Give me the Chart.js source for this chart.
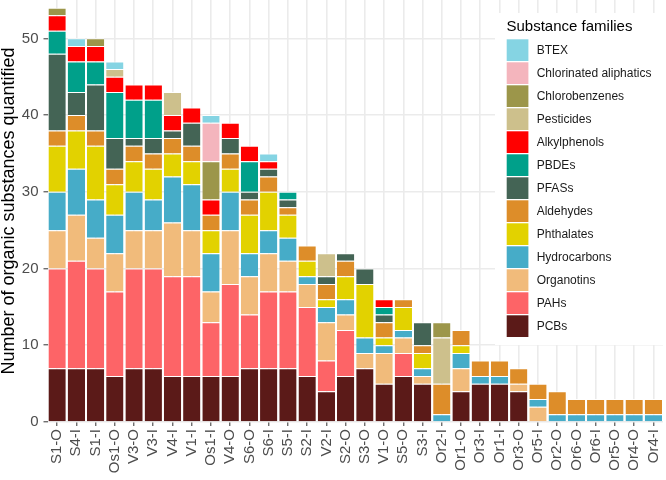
<!DOCTYPE html>
<html>
<head>
<meta charset="utf-8">
<script src="https://cdn.jsdelivr.net/npm/chart.js@4"></script>
<style>
    html, body { margin: 0; padding: 0; background: #ffffff; }
    #wrap { width: 666px; height: 480px; }
</style>
</head>
<body>
<div id="wrap"><canvas id="familyChart" width="666" height="480"></canvas></div>
<script>

const sites = [
    "S1-O", "S4-I", "S1-I", "Os1-O", "V3-O", "V3-I", "V4-I", "V1-I",
    "Os1-I", "V4-O", "S6-O", "S6-I", "S5-I", "S2-I", "V2-I", "S2-O",
    "S3-O", "V1-O", "S5-O", "S3-I", "Or2-I", "Or1-O", "Or3-I", "Or1-I",
    "Or3-O", "Or5-I", "Or2-O", "Or6-O", "Or6-I", "Or5-O", "Or4-O", "Or4-I"
];

// counts per family, stacked bottom (PCBs) to top (BTEX)
const pcbs = [7, 7, 7, 6, 7, 7, 6, 6, 6, 6, 7, 7, 7, 6, 4, 6, 7, 5, 6, 5, 0, 4, 5, 5, 4, 0, 0, 0, 0, 0, 0, 0];
const pahs = [13, 14, 13, 11, 13, 13, 13, 13, 7, 12, 7, 10, 10, 9, 4, 6, 0, 0, 3, 0, 0, 0, 0, 0, 0, 0, 0, 0, 0, 0, 0, 0];
const organotins = [5, 6, 4, 5, 5, 5, 7, 6, 4, 7, 5, 5, 4, 3, 5, 2, 2, 4, 2, 1, 0, 3, 0, 0, 1, 2, 0, 0, 0, 0, 0, 0];
const hydrocarbons = [5, 6, 5, 5, 5, 4, 6, 6, 5, 5, 3, 3, 3, 1, 2, 2, 2, 1, 1, 1, 1, 2, 1, 1, 0, 1, 1, 1, 1, 1, 1, 1];
const phthalates = [6, 5, 7, 4, 4, 4, 3, 3, 3, 3, 5, 5, 3, 2, 1, 3, 7, 1, 3, 2, 0, 1, 0, 0, 0, 0, 0, 0, 0, 0, 0, 0];
const aldehydes = [2, 2, 2, 2, 2, 2, 2, 2, 2, 2, 2, 2, 1, 2, 2, 2, 0, 2, 1, 1, 4, 2, 2, 2, 2, 2, 3, 2, 2, 2, 2, 2];
const pfass = [10, 3, 6, 4, 1, 2, 1, 3, 0, 2, 1, 1, 1, 0, 1, 1, 2, 1, 0, 3, 0, 0, 0, 0, 0, 0, 0, 0, 0, 0, 0, 0];
const pbdes = [3, 4, 3, 6, 5, 5, 0, 0, 0, 0, 4, 0, 1, 0, 0, 0, 0, 1, 0, 0, 0, 0, 0, 0, 0, 0, 0, 0, 0, 0, 0, 0];
const alkylphenols = [2, 2, 2, 2, 2, 2, 2, 2, 2, 2, 2, 1, 0, 0, 0, 0, 0, 1, 0, 0, 0, 0, 0, 0, 0, 0, 0, 0, 0, 0, 0, 0];
const pesticides = [0, 0, 0, 1, 0, 0, 3, 0, 0, 0, 0, 0, 0, 0, 3, 0, 0, 0, 0, 0, 6, 0, 0, 0, 0, 0, 0, 0, 0, 0, 0, 0];
const chlorobenzenes = [1, 0, 1, 0, 0, 0, 0, 0, 5, 0, 0, 0, 0, 0, 0, 0, 0, 0, 0, 0, 2, 0, 0, 0, 0, 0, 0, 0, 0, 0, 0, 0];
const chlorinatedAliphatics = [0, 0, 0, 0, 0, 0, 0, 0, 5, 0, 0, 0, 0, 0, 0, 0, 0, 0, 0, 0, 0, 0, 0, 0, 0, 0, 0, 0, 0, 0, 0, 0];
const btex = [0, 1, 0, 1, 0, 0, 0, 0, 1, 0, 0, 1, 0, 0, 0, 0, 0, 0, 0, 0, 0, 0, 0, 0, 0, 0, 0, 0, 0, 0, 0, 0];

const yTicks = [0, 10, 20, 30, 40, 50];

const FONT = "'Liberation Sans', Arial, sans-serif";

function family(label, data, color) {

    return {
        label,
        data,
        backgroundColor: color,
        borderColor: "#ffffff",
        borderWidth: { top: 1, left: 0, right: 0, bottom: 0 },
        borderSkipped: false,
        barPercentage: 0.9,
        categoryPercentage: 1.0
    };

}

const datasets = [
    family("PCBs", pcbs, "#5B1A18"),
    family("PAHs", pahs, "#FD6467"),
    family("Organotins", organotins, "#F1BB7B"),
    family("Hydrocarbons", hydrocarbons, "#46ACC8"),
    family("Phthalates", phthalates, "#E2D200"),
    family("Aldehydes", aldehydes, "#DD8D29"),
    family("PFASs", pfass, "#446455"),
    family("PBDEs", pbdes, "#00A08A"),
    family("Alkylphenols", alkylphenols, "#FF0000"),
    family("Pesticides", pesticides, "#CDC08C"),
    family("Chlorobenzenes", chlorobenzenes, "#9C964A"),
    family("Chlorinated aliphatics", chlorinatedAliphatics, "#F4B5BD"),
    family("BTEX", btex, "#85D4E3")
];

// legend sits inside the panel, top right, like the ggplot one
const familyLegend = {

    id: "familyLegend",

    afterDraw(chart) {

        const ctx = chart.ctx;

        ctx.save();

        ctx.fillStyle = "#ffffff";
        ctx.fillRect(495, 13, 171, 332);

        ctx.fillStyle = "#000000";
        ctx.font = "15px " + FONT;
        ctx.textBaseline = "alphabetic";
        ctx.textAlign = "left";
        ctx.fillText("Substance families", 506.5, 30.5);

        ctx.font = "12px " + FONT;
        ctx.textBaseline = "middle";

        chart.data.datasets
            .slice()
            .reverse()
            .forEach((ds, i) => {

                const y = 39.3 + i * 23;

                ctx.fillStyle = ds.backgroundColor;
                ctx.fillRect(506.7, y, 21.7, 21.7);

                ctx.fillStyle = "#1a1a1a";
                ctx.fillText(ds.label, 536.7, y + 11.5);

            });

        ctx.restore();

    }

};

new Chart(document.getElementById("familyChart"), {

    type: "bar",

    data: {
        labels: sites,
        datasets
    },

    plugins: [familyLegend],

    options: {

        responsive: false,
        animation: false,
        events: [],

        layout: {
            padding: { left: 0, right: 3, top: 0, bottom: 0 }
        },

        plugins: {
            legend: { display: false },
            tooltip: { enabled: false }
        },

        scales: {

            x: {
                stacked: true,
                offset: true,
                afterFit(scale) {
                    scale.height = 58;
                    scale.paddingLeft = 0;
                    scale.paddingRight = 0;
                },
                border: { display: false },
                grid: {
                    offset: false,
                    color: "#ebebeb",
                    lineWidth: 1.6,
                    tickColor: "#333333",
                    tickLength: 4,
                    tickWidth: 1
                },
                ticks: {
                    autoSkip: false,
                    maxRotation: 90,
                    minRotation: 90,
                    padding: 3,
                    color: "#4d4d4d",
                    font: { family: FONT, size: 15 }
                }
            },

            y: {
                stacked: true,
                min: 0,
                max: 55,
                afterFit(scale) {
                    scale.width = 47.5;
                    scale.paddingTop = 0;
                    scale.paddingBottom = 0;
                },
                afterBuildTicks(scale) {
                    scale.ticks = yTicks.map(v => ({ value: v }));
                },
                border: { display: false },
                grid: {
                    color: "#ebebeb",
                    lineWidth: 1.6,
                    tickColor: "#333333",
                    tickLength: 4,
                    tickWidth: 1
                },
                ticks: {
                    padding: 5,
                    color: "#4d4d4d",
                    font: { family: FONT, size: 15 }
                },
                title: {
                    display: true,
                    text: "Number of organic substances quantified",
                    color: "#000000",
                    padding: { top: 0, bottom: 0 },
                    font: { family: FONT, size: 18, lineHeight: 1 }
                }
            }

        }

    }

});

</script>
</body>
</html>
